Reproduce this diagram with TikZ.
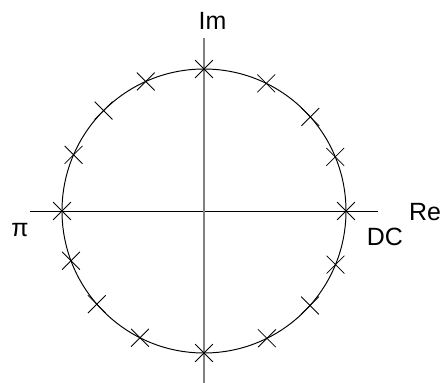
\documentclass[tikz,border=0pt]{standalone}
\usepackage{fontspec}
\setmainfont{Liberation Sans}
\usetikzlibrary{shapes.misc}
\newcommand{\lblfont}{\fontsize{14.2}{17}\selectfont}
\tikzset{
  axis/.style    = {line width=0.55pt},
  imaxis/.style  = {line width=0.7pt, gray},
  ucircle/.style = {line width=0.55pt},
  zero/.style    = {cross out, draw, line width=0.45pt, inner sep=0pt,
                    minimum size=0.34cm},
  lbl/.style     = {inner sep=0pt, anchor=base, font=\lblfont}
}

\begin{document}
\begin{tikzpicture}[x=0.02cm, y=0.02cm]

  \useasboundingbox (-204,-172) rectangle (237,211);

  %% ── Axes ──────────────────────────────────────────────────────
  \coordinate (reL) at (-174,0);
  \coordinate (reR) at ( 174,0);
  \coordinate (imT) at (0, 173);
  \coordinate (imB) at (0,-172);
  \draw[axis]   (reL) -- (reR);

  %% ── Unit circle ───────────────────────────────────────────────
  \draw[ucircle] (0,0) circle (142);

  \draw[imaxis] (imB) -- (imT);

  %% ── Zeros on the circle ───────────────────────────────────────
  \foreach \a [count=\i] in {0,22.4,41.5,64,90,114.2,135,156.7,
                             180,200.5,221,243.2,270,296.3,318.3,337.8}
    \node[zero] (z\i) at (\a:142) {};

  %% ── Labels ────────────────────────────────────────────────────
  \node[lbl] (im) at (8.5, 182)  {Im};
  \node[lbl] (re) at (221, -9)   {Re};
  \node[lbl] (dc) at (181, -34)  {DC};
  \node[lbl] (pi) at (-184, -25) {π};

\end{tikzpicture}
\end{document}
